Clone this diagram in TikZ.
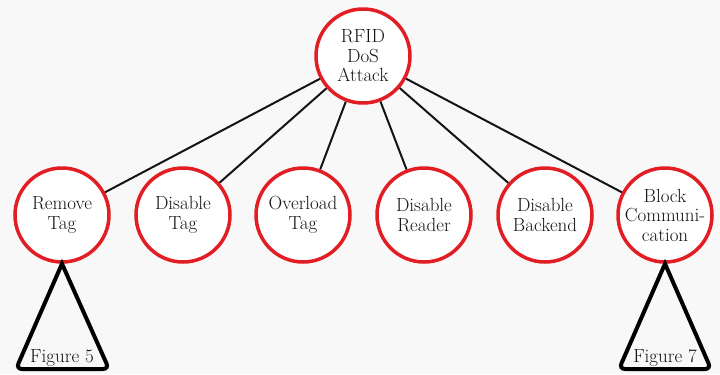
\documentclass[tikz,border=0pt]{standalone}
\usepackage{fontspec}
\definecolor{nodered}{RGB}{226,30,36}
\definecolor{paper}{RGB}{248,248,248}
\definecolor{ink}{RGB}{20,20,20}
\newcommand{\labelfont}{\fontsize{19bp}{19.5bp}\selectfont}
\begin{document}
\begin{tikzpicture}[x=1bp,y=-1bp,
  attack/.style={circle, draw=nodered, line width=3.5bp, fill=white,
    minimum size=94bp, inner sep=-12bp, align=center, text=ink,
    font=\labelfont},
  branch/.style={line width=2bp, draw=ink},
  subtree/.style={line width=4bp, draw=black, line join=miter},
  figlabel/.style={inner sep=0pt, text=ink, font=\labelfont}]
\fill[paper] (0,0) rectangle (720,374);
\useasboundingbox (0,0) rectangle (720,374);

% root goal and its sub-goals
\node[attack] (root)    at (363,56)  {RFID\\DoS\\Attack};
\node[attack] (remove)  at (62,215)  {Remove\\Tag};
\node[attack] (distag)  at (183,215) {Disable\\Tag};
\node[attack] (overld)  at (303,215) {Overload\\Tag};
\node[attack] (disrdr)  at (424,215) {Disable\\Reader};
\node[attack] (disbck)  at (545,215) {Disable\\Backend};
\node[attack] (block)   at (665,215) {Block\\Communi-\\cation};

\foreach \c in {remove,distag,overld,disrdr,disbck,block}
  \draw[branch] (root) -- (\c);

% collapsed subtrees
\coordinate (fiveL)  at (16,369);
\coordinate (fiveR)  at (109,369);
\coordinate (sevenL) at (619,369);
\coordinate (sevenR) at (711,369);
\draw[subtree] (remove.south) [rounded corners=6bp] -- (fiveR) -- (fiveL) [sharp corners] -- cycle;
\draw[subtree] (block.south) [rounded corners=6bp] -- (sevenR) -- (sevenL) [sharp corners] -- cycle;
\node[figlabel, anchor=base] (fig5) at (62,362) {Figure 5};
\node[figlabel, anchor=base] (fig7) at (665,362) {Figure 7};
\end{tikzpicture}
\end{document}
